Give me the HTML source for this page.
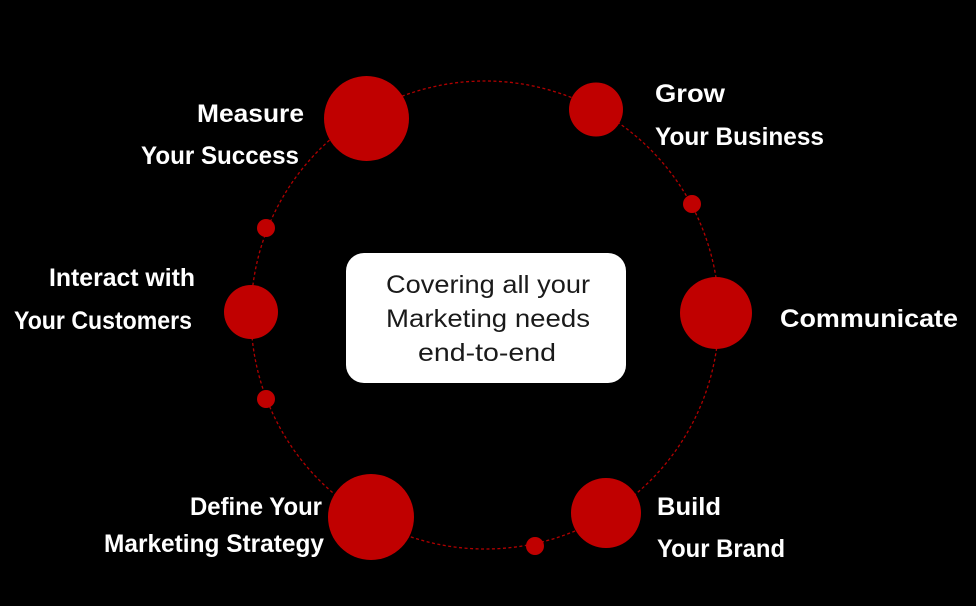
<!DOCTYPE html>
<html><head><meta charset="utf-8"><style>
html,body{margin:0;padding:0;background:#000;width:976px;height:606px;overflow:hidden}
svg{display:block}
.l{font-family:"Liberation Sans",sans-serif;font-weight:bold;font-size:25px;fill:#fff}
.c{font-family:"Liberation Sans",sans-serif;font-size:25px;fill:#1a1a1a}
</style></head><body>
<svg width="976" height="606" viewBox="0 0 976 606">
<circle cx="485" cy="315" r="234" fill="none" stroke="#b00000" stroke-width="1.3" stroke-dasharray="3 2.5"/>
<g fill="#c00000">
<circle cx="366.5" cy="118.5" r="42.5"/>
<circle cx="596" cy="109.5" r="27"/>
<circle cx="692" cy="204" r="9"/>
<circle cx="716" cy="313" r="36"/>
<circle cx="606" cy="513" r="35"/>
<circle cx="535" cy="546" r="9"/>
<circle cx="371" cy="517" r="43"/>
<circle cx="266" cy="399" r="9"/>
<circle cx="251" cy="312" r="27"/>
<circle cx="266" cy="228" r="9"/>
</g>
<rect x="346" y="253" width="280" height="130" rx="18" fill="#fff"/>
<text class="c" x="386" y="293" textLength="204" lengthAdjust="spacingAndGlyphs">Covering all your</text>
<text class="c" x="386" y="327" textLength="204" lengthAdjust="spacingAndGlyphs">Marketing needs</text>
<text class="c" x="418" y="361" textLength="138" lengthAdjust="spacingAndGlyphs">end-to-end</text>
<text class="l" x="197" y="122" textLength="107" lengthAdjust="spacingAndGlyphs">Measure</text>
<text class="l" x="141" y="164" textLength="158" lengthAdjust="spacingAndGlyphs">Your Success</text>
<text class="l" x="655" y="102" textLength="70" lengthAdjust="spacingAndGlyphs">Grow</text>
<text class="l" x="655" y="145" textLength="169" lengthAdjust="spacingAndGlyphs">Your Business</text>
<text class="l" x="49" y="286" textLength="146" lengthAdjust="spacingAndGlyphs">Interact with</text>
<text class="l" x="14" y="329" textLength="178" lengthAdjust="spacingAndGlyphs">Your Customers</text>
<text class="l" x="780" y="327" textLength="178" lengthAdjust="spacingAndGlyphs">Communicate</text>
<text class="l" x="657" y="515" textLength="64" lengthAdjust="spacingAndGlyphs">Build</text>
<text class="l" x="657" y="557" textLength="128" lengthAdjust="spacingAndGlyphs">Your Brand</text>
<text class="l" x="190" y="515" textLength="132" lengthAdjust="spacingAndGlyphs">Define Your</text>
<text class="l" x="104" y="552" textLength="220" lengthAdjust="spacingAndGlyphs">Marketing Strategy</text>
</svg>
</body></html>
